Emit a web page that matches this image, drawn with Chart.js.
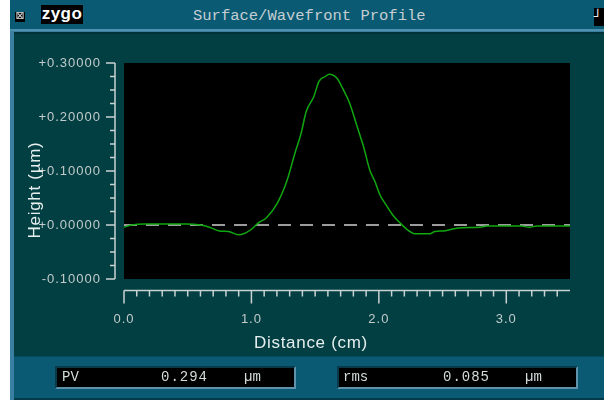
<!DOCTYPE html>
<html>
<head>
<meta charset="utf-8">
<script src="https://cdn.jsdelivr.net/npm/chart.js@4/dist/chart.umd.min.js"></script>
<style>
  html, body { margin: 0; padding: 0; background: #ffffff; }
  #win { position: relative; width: 604px; height: 402px; overflow: hidden; background: #ffffff; }
  .abs { position: absolute; }
  .mono { font-family: "Liberation Mono", "DejaVu Sans Mono", monospace; color: #d4dcdc; white-space: nowrap; }
  .axisTitle { font-family: "Liberation Sans", Arial, sans-serif; font-size: 17px; letter-spacing: 0.7px; color: #e6eeee; white-space: nowrap; z-index: 5; }
  .box { background: #000; border-top: 2px solid #0a3a4a; border-left: 2px solid #0a3a4a; border-right: 2px solid #5f93ab; border-bottom: 2px solid #5f93ab; box-sizing: border-box; }
  canvas { position: absolute; left: 0; top: 0; z-index: 3; }
</style>
</head>
<body>
<div id="win">
  <!-- window frame -->
  <div class="abs" style="left:10px;top:0;width:594px;height:400px;background:#3b80a2"></div>
  <div class="abs" style="left:10px;top:0;width:594px;height:29px;background:#0a5a74"></div>
  <div class="abs" style="left:10px;top:29px;width:594px;height:2px;background:#4d91ae"></div>
  <div class="abs" style="left:14px;top:32px;width:590px;height:324px;background:#023f42;border-top:2px solid #01323a;box-sizing:border-box"></div>
  <div class="abs" style="left:14px;top:356px;width:590px;height:42px;background:#0a5a74;border-top:1px solid #064a60;box-sizing:border-box"></div>
  <div class="abs" style="left:14px;top:398px;width:590px;height:2px;background:#033a4a"></div>

  <!-- title bar -->
  <div class="abs" style="left:15px;top:12px;width:10px;height:10px;background:#000"></div>
  <div class="abs" style="left:14px;top:8px;width:12px;height:16px;font:11px 'DejaVu Sans';color:#e8e8e8;text-align:center;line-height:16px;z-index:4">⊠</div>
  <div class="abs" style="left:41px;top:5px;width:42px;height:19px;background:#000;color:#fff;font:bold 17px 'Liberation Sans',Arial,sans-serif;line-height:17px;text-align:center;letter-spacing:0.5px">zygo</div>
  <div class="abs mono" style="left:193px;top:7px;font-size:15.5px;line-height:18px;color:#c4ced2">Surface/Wavefront Profile</div>
  <div class="abs" style="left:594px;top:8px;width:10px;height:18px;background:#000;color:#f0f0f0;font:bold 13px 'DejaVu Sans';line-height:18px;text-align:left">┘</div>

  <!-- axis titles -->
  <div class="abs axisTitle" style="left:311px;top:343px;transform:translate(-50%,-50%)">Distance (cm)</div>
  <div class="abs axisTitle" style="left:35px;top:190px;transform:translate(-50%,-50%) rotate(-90deg)">Height (µm)</div>

  <!-- statistics boxes -->
  <div class="abs box" style="left:55px;top:366px;width:241px;height:23px"></div>
  <div class="abs box" style="left:337px;top:366px;width:241px;height:23px"></div>
  <div class="abs mono" style="left:62px;top:368px;font-size:14px;line-height:18px;z-index:4">PV</div>
  <div class="abs mono" style="left:161px;top:368px;font-size:14px;line-height:18px;letter-spacing:1px;z-index:4">0.294</div>
  <div class="abs mono" style="left:244px;top:368px;font-size:14px;line-height:18px;z-index:4">µm</div>
  <div class="abs mono" style="left:343px;top:368px;font-size:14px;line-height:18px;z-index:4">rms</div>
  <div class="abs mono" style="left:443px;top:368px;font-size:14px;line-height:18px;letter-spacing:1px;z-index:4">0.085</div>
  <div class="abs mono" style="left:525px;top:368px;font-size:14px;line-height:18px;z-index:4">µm</div>

  <canvas id="profile" width="604" height="402"></canvas>
</div>

<script>
// Profile across the surface: distance (cm) and height (µm)
const distanceCm = [0, 0.06, 0.16, 0.30, 0.49, 0.60, 0.67, 0.75, 0.82, 0.90, 0.96, 1.01, 1.05, 1.12, 1.20,
  1.28, 1.34, 1.39, 1.43, 1.49, 1.53, 1.58, 1.61, 1.67, 1.72, 1.77, 1.83, 1.88, 1.93, 1.97, 2.01,
  2.06, 2.11, 2.17, 2.22, 2.28, 2.40, 2.44, 2.51, 2.61, 2.79, 2.85, 3.00, 3.12, 3.18, 3.24, 3.50];
const heightUm = [-0.004, 0.000, 0.002, 0.002, 0.002, 0.000, -0.004, -0.011, -0.012, -0.018, -0.014, -0.006, 0.003, 0.014, 0.039,
  0.083, 0.132, 0.170, 0.210, 0.238, 0.266, 0.275, 0.279, 0.272, 0.251, 0.226, 0.182, 0.145, 0.101, 0.080, 0.055,
  0.036, 0.018, 0.003, -0.008, -0.016, -0.016, -0.012, -0.011, -0.006, -0.004, -0.002, -0.002, -0.002, -0.004, -0.002, -0.002];

// Zero reference line
const zeroLineX = [0, 3.5];
const zeroLineY = [0, 0];

// Axis ranges and tick labels
const xRange = [0, 3.5];
const yRange = [-0.1, 0.3];
const xMajorLabels = ['0.0', '1.0', '2.0', '3.0'];
const yMajorLabels = ['-0.10000', '+0.00000', '+0.10000', '+0.20000', '+0.30000'];
const xMinorPerMajor = 10;   // minor ticks every 0.1 cm
const yMinorPerMajor = 4;    // minor ticks every 0.025 µm

const profilePoints = distanceCm.map((d, i) => ({ x: d, y: heightUm[i] }));
const zeroPoints = zeroLineX.map((d, i) => ({ x: d, y: zeroLineY[i] }));

const tickColor = '#c9d2d2';

// Black plot field plus the detached axis lines with major/minor ticks
const scopeFrame = {
  id: 'scopeFrame',
  beforeDraw(chart) {
    const { ctx, chartArea: a } = chart;
    ctx.save();
    ctx.fillStyle = '#000000';
    ctx.fillRect(a.left, a.top, a.right - a.left, a.bottom - a.top);
    ctx.restore();
    ctx.letterSpacing = '1px';
  },
  afterDraw(chart) {
    const { ctx, chartArea: a, scales: { x, y } } = chart;
    ctx.save();
    ctx.letterSpacing = '0px';
    ctx.strokeStyle = tickColor;
    ctx.lineWidth = 1.5;
    ctx.beginPath();
    // vertical axis, set off to the left of the plot field
    const ax = a.left - 9;
    ctx.moveTo(ax, y.getPixelForValue(yRange[1]));
    ctx.lineTo(ax, y.getPixelForValue(yRange[0]));
    y.ticks.forEach(t => {
      const py = y.getPixelForValue(t.value);
      const len = t.label !== '' ? 9 : 5;
      ctx.moveTo(ax, py);
      ctx.lineTo(ax - len, py);
    });
    // horizontal axis, set off below the plot field
    const ay = a.bottom + 11.5;
    ctx.moveTo(x.getPixelForValue(xRange[0]), ay);
    ctx.lineTo(x.getPixelForValue(xRange[1]), ay);
    x.ticks.forEach(t => {
      const px = x.getPixelForValue(t.value);
      const len = t.label !== '' ? 13 : 6;
      ctx.moveTo(px, ay);
      ctx.lineTo(px, ay + len);
    });
    ctx.stroke();
    ctx.restore();
  }
};

new Chart(document.getElementById('profile'), {
  type: 'line',
  data: {
    datasets: [
      {
        label: 'zero',
        data: zeroPoints,
        borderColor: '#cfcfcf',
        borderWidth: 1.5,
        borderDash: [13, 9],
        pointRadius: 0,
        order: 2
      },
      {
        label: 'profile',
        data: profilePoints,
        borderColor: '#10a810',
        borderWidth: 1.5,
        pointRadius: 0,
        cubicInterpolationMode: 'monotone',
        order: 1
      }
    ]
  },
  options: {
    responsive: false,
    devicePixelRatio: 1,
    animation: false,
    layout: { padding: { left: 0, top: 63, right: 34, bottom: 63 } },
    plugins: { legend: { display: false }, tooltip: { enabled: false } },
    scales: {
      x: {
        type: 'linear',
        min: xRange[0],
        max: xRange[1],
        grid: { display: false, drawTicks: false },
        border: { display: false },
        afterBuildTicks(scale) {
          const n = Math.round((xRange[1] - xRange[0]) * xMinorPerMajor);
          const ticks = [];
          for (let i = 0; i < n; i++) ticks.push({ value: xRange[0] + i / xMinorPerMajor });
          scale.ticks = ticks;
        },
        afterFit(scale) { scale.height = 60; },
        ticks: {
          autoSkip: false,
          maxRotation: 0,
          padding: 33,
          color: '#c3cbcb',
          font: { family: 'Liberation Sans, Arial, sans-serif', size: 13 },
          callback(value, index) {
            return index % xMinorPerMajor === 0 ? xMajorLabels[index / xMinorPerMajor] : '';
          }
        }
      },
      y: {
        type: 'linear',
        min: yRange[0],
        max: yRange[1],
        grid: { display: false, drawTicks: false },
        border: { display: false },
        afterBuildTicks(scale) {
          const n = Math.round((yRange[1] - yRange[0]) * 10 * yMinorPerMajor);
          const ticks = [];
          for (let i = 0; i <= n; i++) ticks.push({ value: yRange[0] + i / (10 * yMinorPerMajor) });
          scale.ticks = ticks;
        },
        afterFit(scale) { scale.width = 124; },
        ticks: {
          autoSkip: false,
          padding: 23,
          color: '#c3cbcb',
          font: { family: 'Liberation Sans, Arial, sans-serif', size: 13 },
          callback(value, index) {
            return index % yMinorPerMajor === 0 ? yMajorLabels[index / yMinorPerMajor] : '';
          }
        }
      }
    }
  },
  plugins: [scopeFrame]
});
</script>
</body>
</html>
